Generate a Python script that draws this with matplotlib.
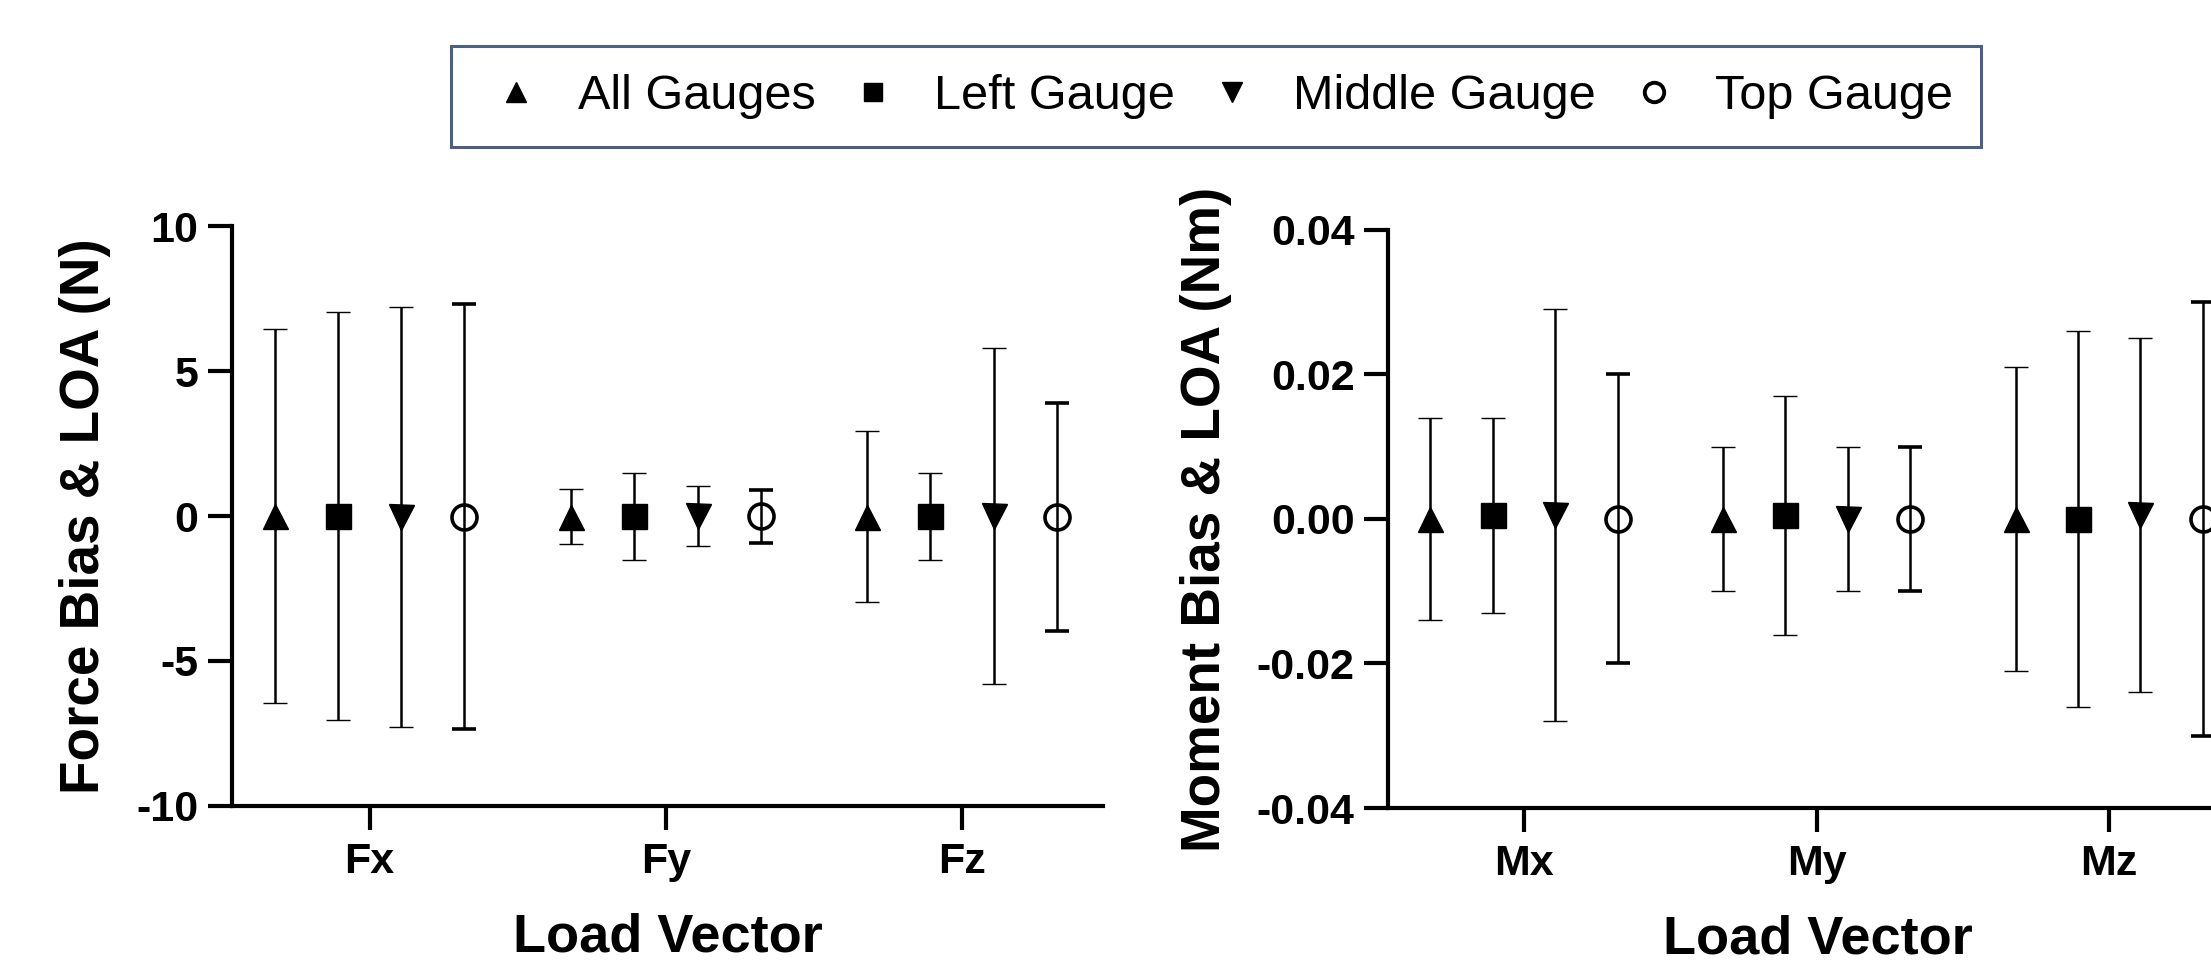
import matplotlib
matplotlib.use('Agg')
import matplotlib.pyplot as plt
from matplotlib.lines import Line2D
import numpy as np

plt.rcParams['font.family'] = ['Liberation Sans', 'DejaVu Sans']
plt.rcParams['axes.unicode_minus'] = False

# %% data
gauges = ['All Gauges', 'Left Gauge', 'Middle Gauge', 'Top Gauge']
gauge_markers = ['^', 's', 'v', 'o']

force_labels = ['Fx', 'Fy', 'Fz']
force_bias = [
    [0.0, -0.02, -0.02],
    [0.0, -0.01, -0.01],
    [-0.02, -0.01, -0.01],
    [-0.02, -0.01, -0.02],
]
force_lower = [
    [-6.45, -0.98, -2.97],
    [-7.05, -1.50, -1.50],
    [-7.26, -1.03, -5.81],
    [-7.36, -0.93, -3.95],
]
force_upper = [
    [6.45, 0.93, 2.93],
    [7.03, 1.47, 1.47],
    [7.22, 1.02, 5.79],
    [7.31, 0.91, 3.90],
]

moment_labels = ['Mx', 'My', 'Mz']
moment_bias = [
    [0.0, 0.0, 0.0],
    [0.0005, 0.0005, 0.0],
    [0.0005, 0.0, 0.0005],
    [0.0, 0.0, 0.0],
]
moment_lower = [
    [-0.014, -0.010, -0.021],
    [-0.013, -0.016, -0.026],
    [-0.028, -0.010, -0.024],
    [-0.020, -0.010, -0.030],
]
moment_upper = [
    [0.014, 0.010, 0.021],
    [0.014, 0.017, 0.026],
    [0.029, 0.010, 0.025],
    [0.020, 0.010, 0.030],
]

force_ticks = [10, 5, 0, -5, -10]
moment_ticks = [0.04, 0.02, 0.00, -0.02, -0.04]

# %% plotting
offsets = [-0.32, -0.107, 0.107, 0.32]
fig = plt.figure(figsize=(22.11, 9.61), dpi=100)
ax1 = fig.add_axes([0.1049, 0.1613, 0.3939, 0.6035])
ax2 = fig.add_axes([0.6278, 0.1592, 0.3890, 0.6015])


def draw_panel(ax, labels, bias, lower, upper, ticks, fmt, ylabel):
    x = np.arange(len(labels))
    for i in range(len(gauges)):
        b = np.array(bias[i])
        lo = b - np.array(lower[i])
        hi = np.array(upper[i]) - b
        hollow = gauge_markers[i] == 'o'
        ax.errorbar(x + offsets[i], b, yerr=[lo, hi], fmt=gauge_markers[i],
                    color='black', ecolor='black', elinewidth=1.8,
                    capsize=8.5, capthick=1.8, markersize=18,
                    mfc='none' if hollow else 'black', mec='black',
                    mew=2.6 if hollow else 1, clip_on=False, zorder=3)
    ax.set_xlim(-0.465, 2.475)
    ax.set_ylim(ticks[-1], ticks[0])
    ax.set_xticks(x)
    ax.set_xticklabels(labels)
    ax.set_yticks(ticks)
    ax.set_yticklabels([fmt.format(t) for t in ticks])
    for s in ['top', 'right']:
        ax.spines[s].set_visible(False)
    for s in ['left', 'bottom']:
        ax.spines[s].set_linewidth(3)
    ax.tick_params(axis='both', length=17, width=3, labelsize=31)
    ax.tick_params(axis='x', pad=9)
    ax.tick_params(axis='y', pad=7)
    for lbl in ax.get_xticklabels() + ax.get_yticklabels():
        lbl.set_fontweight('bold')
    ax.set_xlabel('Load Vector', fontsize=39, fontweight='bold', labelpad=22)
    ax.set_ylabel(ylabel, fontsize=39.5, fontweight='bold', labelpad=18)


draw_panel(ax1, force_labels, force_bias, force_lower, force_upper,
           force_ticks, '{:g}', 'Force Bias & LOA (N)')
draw_panel(ax2, moment_labels, moment_bias, moment_lower, moment_upper,
           moment_ticks, '{:.2f}', 'Moment Bias & LOA (Nm)')

legend_sizes = [15, 13, 15, 14]
handles = []
for i in range(len(gauges)):
    hollow = gauge_markers[i] == 'o'
    handles.append(Line2D([], [], linestyle='none', marker=gauge_markers[i],
                          markersize=legend_sizes[i], color='black',
                          mfc='none' if hollow else 'black',
                          mew=2.8 if hollow else 1))
leg = fig.legend(handles, gauges, loc='center', bbox_to_anchor=(0.550, 0.8996),
                 ncol=4, fontsize=35, frameon=True, fancybox=False,
                 handlelength=1.52, handletextpad=0.5, columnspacing=0.42,
                 borderpad=0.58, borderaxespad=0)
leg.get_frame().set_edgecolor('#1F3864')
leg.get_frame().set_linewidth(2.2)

plt.savefig('out.png', dpi=100)
